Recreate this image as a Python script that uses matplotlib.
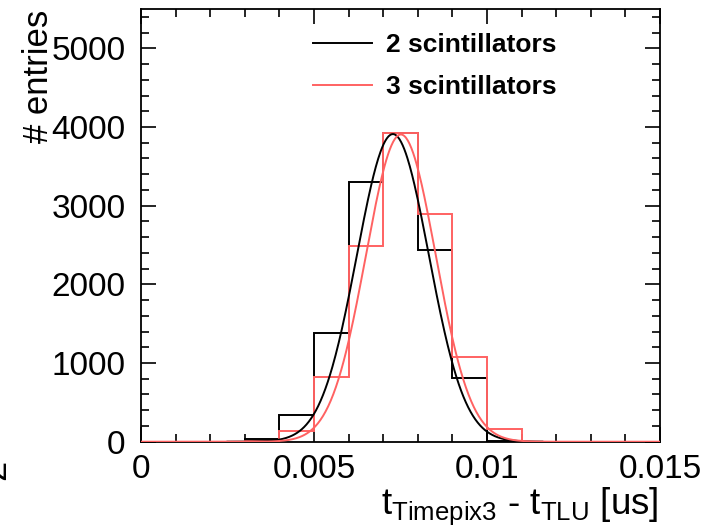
import numpy as np
import matplotlib.pyplot as plt
from matplotlib.ticker import MultipleLocator

plt.rcParams['font.family'] = ['Liberation Sans', 'DejaVu Sans']
plt.rcParams['mathtext.default'] = 'regular'

# histogram bins (us) and contents
bin_edges = np.round(np.arange(0, 0.0151, 0.001), 4)
entries_2sc = [0, 0, 0, 30, 339, 1386, 3305, 3920, 2437, 814, 10, 0, 0, 0, 0]
entries_3sc = [0, 0, 0, 5, 136, 827, 2492, 3928, 2890, 1081, 160, 0, 0, 0, 0]

# gaussian fit results: amplitude, mean, sigma, fit range
fit_2sc = [3910, 0.00728, 0.00104]
range_2sc = [0.0025, 0.0116]
fit_3sc = [3905, 0.00751, 0.00101]
range_3sc = [0.0, 0.015]

labels = ['2 scintillators', '3 scintillators']
red = '#ff6262'


def gaus(x, a, mu, sig):
    return a * np.exp(-0.5 * ((x - mu) / sig) ** 2)


fig = plt.figure(figsize=(7.14, 5.29), dpi=100)
ax = fig.add_axes([141 / 714, 1 - 441.7 / 529, (660 - 141) / 714, (441.7 - 9) / 529])

ax.stairs(entries_2sc, bin_edges, color='black', lw=1.4, baseline=0, zorder=2)
ax.stairs(entries_3sc, bin_edges, color=red, lw=1.4, baseline=0, zorder=3)

x2 = np.linspace(range_2sc[0], range_2sc[1], 400)
x3 = np.linspace(range_3sc[0], range_3sc[1], 600)
ax.plot(x2, gaus(x2, *fit_2sc), color='black', lw=1.4, zorder=4, label=labels[0])
ax.plot(x3, gaus(x3, *fit_3sc), color=red, lw=1.4, zorder=4, label=labels[1])

ax.set_xlim(0, 0.015)
ax.set_ylim(0, 5500)
ax.xaxis.set_major_locator(MultipleLocator(0.005))
ax.xaxis.set_minor_locator(MultipleLocator(0.001))
ax.yaxis.set_major_locator(MultipleLocator(1000))
ax.yaxis.set_minor_locator(MultipleLocator(200))
ax.set_xticks([0, 0.005, 0.01, 0.015])
ax.set_xticklabels(['0', '0.005', '0.01', '0.015'])

ax.tick_params(which='both', direction='in', top=True, right=True, width=1.2)
ax.tick_params(which='major', length=11, labelsize=24)
ax.tick_params(which='minor', length=5.5)
ax.tick_params(axis='x', pad=9)
ax.tick_params(axis='y', pad=11)
for s in ax.spines.values():
    s.set_linewidth(1.3)

ax.legend(loc='center left', bbox_to_anchor=(313 / 714, 1 - 66 / 529),
          bbox_transform=fig.transFigure, frameon=False, borderpad=0,
          borderaxespad=0, handlelength=2.25, handletextpad=0.5,
          labelspacing=0.7, prop={'size': 19, 'weight': 'bold'})

fig.text(39 / 714, 1 - 10 / 529, '# entries', rotation=90, ha='center', va='top', fontsize=25)
fig.text(659 / 714, 1 - 527 / 529, r'$t_{Timepix3}$ - $t_{TLU}$ [us]',
         ha='right', va='bottom', fontsize=26.5)
# clipped leftover glyph at the left edge
fig.text(-4 / 714, 1 - 470 / 529, '2', rotation=90, ha='center', va='center', fontsize=26)

fig.savefig('out.png', dpi=100)
